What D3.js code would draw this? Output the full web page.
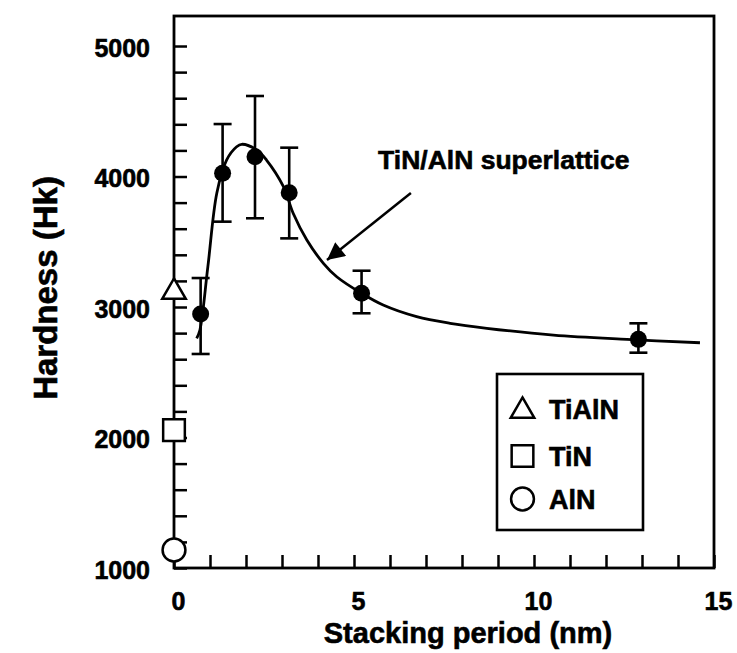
<!DOCTYPE html>
<html><head><meta charset="utf-8">
<script src="https://cdn.jsdelivr.net/npm/d3@7/dist/d3.min.js"></script>
<style>
body{margin:0;background:#fff;}
text{font-family:"Liberation Sans",Arial,Helvetica,sans-serif;font-weight:bold;fill:#000;stroke:#000;stroke-width:0.6px;}
</style></head>
<body>
<svg id="chart" width="737" height="653"></svg>
<script>
// ---- data ----
const periods = [0.74, 1.35, 2.25, 3.2, 5.21, 12.9];
const hardness = [2946, 4025, 4152, 3876, 3105, 2752];
const errTop = [3222, 4402, 4617, 4221, 3278, 2875];
const errBottom = [2640, 3654, 3680, 3526, 2952, 2650];

const fitX = [0.63, 0.72, 0.94, 1.19, 1.46, 1.74, 1.88, 2.30, 2.57, 3.04, 3.31, 3.69, 4.15, 4.52, 5.21, 5.81, 6.74, 7.67, 8.69, 10.54, 12.58, 14.61];
const fitY = [2760, 2824, 3307, 3874, 4126, 4228, 4247, 4203, 4126, 3922, 3718, 3513, 3335, 3232, 3105, 3015, 2926, 2875, 2837, 2785, 2752, 2726];

const refNames = ["TiAlN", "TiN", "AlN"];
const refHardness = [3130, 2057, 1138];
const refSymbols = ["triangle", "square", "circle"];

const xTickValues = [0,1,2,3,4,5,6,7,8,9,10,11,12,13,14,15];
const xTickLabels = [0, 5, 10, 15];
const yTickValues = [1000,1200,1400,1600,1800,2000,2200,2400,2600,2800,3000,3200,3400,3600,3800,4000,4200,4400,4600,4800,5000];
const yTickLabels = [1000, 2000, 3000, 4000, 5000];

const annotationText = "TiN/AlN superlattice";
const xTitle = "Stacking period (nm)";
const yTitle = "Hardness (Hk)";

// ---- layout ----
const svg = d3.select("#chart");
const L = 174, R = 714, T = 16, B = 568;
const x = d3.scaleLinear().domain([0, 15]).range([L, R]);
const y = d3.scaleLinear().domain([1000, 5230]).range([B, T]);

const symType = {triangle: d3.symbolTriangle, square: d3.symbolSquare, circle: d3.symbolCircle};
const symSize = {triangle: 240, square: 470, circle: 410};

// axes
const xAxis = d3.axisBottom(x).tickValues(xTickValues).tickSizeInner(-13).tickSizeOuter(0)
  .tickPadding(24).tickFormat(d => xTickLabels.includes(d) ? d : "");
const gx = svg.append("g").attr("transform", `translate(0,${B})`).call(xAxis);
gx.select(".domain").remove();
gx.selectAll(".tick line").attr("stroke", "#000").attr("stroke-width", 2.5);
gx.selectAll(".tick text").attr("font-size", 25).attr("dx", 4)
  .style("font-family", '"Liberation Sans",Arial,sans-serif').style("font-weight", "bold");

const yAxis = d3.axisLeft(y).tickValues(yTickValues).tickSizeInner(-13).tickSizeOuter(0)
  .tickPadding(24).tickFormat(d => yTickLabels.includes(d) ? d : "");
const gy = svg.append("g").attr("transform", `translate(${L},0)`).call(yAxis);
gy.select(".domain").remove();
gy.selectAll(".tick line").attr("stroke", "#000").attr("stroke-width", 2.5);
gy.selectAll(".tick text").attr("font-size", 25).attr("dy", "0.4em")
  .style("font-family", '"Liberation Sans",Arial,sans-serif').style("font-weight", "bold");

// frame
svg.append("rect").attr("x", L).attr("y", T).attr("width", R - L).attr("height", B - T)
  .attr("fill", "none").attr("stroke", "#000").attr("stroke-width", 2.8);

// titles
svg.append("text").attr("x", 468).attr("y", 643).attr("text-anchor", "middle")
  .attr("font-size", 29).text(xTitle);
svg.append("text").attr("transform", `translate(57,${288}) rotate(-90)`).attr("text-anchor", "middle")
  .attr("font-size", 33).text(yTitle);

// fitted curve
const pts = fitX.map((d, i) => [x(d), y(fitY[i])]);
svg.append("path").attr("d", d3.line().curve(d3.curveCatmullRom.alpha(0.5))(pts))
  .attr("fill", "none").attr("stroke", "#000").attr("stroke-width", 2.8);

// error bars
const eb = svg.append("g").attr("stroke", "#000").attr("stroke-width", 2.6);
periods.forEach((p, i) => {
  eb.append("line").attr("x1", x(p)).attr("x2", x(p)).attr("y1", y(errTop[i])).attr("y2", y(errBottom[i]));
  eb.append("line").attr("x1", x(p) - 9).attr("x2", x(p) + 9).attr("y1", y(errTop[i])).attr("y2", y(errTop[i]));
  eb.append("line").attr("x1", x(p) - 9).attr("x2", x(p) + 9).attr("y1", y(errBottom[i])).attr("y2", y(errBottom[i]));
});
// points
svg.append("g").selectAll("circle").data(periods).join("circle")
  .attr("cx", d => x(d)).attr("cy", (d, i) => y(hardness[i])).attr("r", 8.5).attr("fill", "#000");

// reference (single-layer) markers at x = 0
svg.append("g").selectAll("path").data(refHardness).join("path")
  .attr("transform", (d, i) => `translate(${x(0)},${y(d) + (refSymbols[i] === "triangle" ? 2 : 0)})`)
  .attr("d", (d, i) => d3.symbol().type(symType[refSymbols[i]]).size(symSize[refSymbols[i]])())
  .attr("fill", "#fff").attr("stroke", "#000").attr("stroke-width", 2.5);

// annotation
const defs = svg.append("defs");
defs.append("marker").attr("id", "arrow").attr("viewBox", "0 0 10 10").attr("refX", 10).attr("refY", 5)
  .attr("markerWidth", 8).attr("markerHeight", 7).attr("markerUnits", "strokeWidth").attr("orient", "auto")
  .append("path").attr("d", "M0,0 L10,5 L0,10 z").attr("fill", "#000");
svg.append("line").attr("x1", x(6.58)).attr("y1", y(3874)).attr("x2", x(4.25)).attr("y2", y(3360))
  .attr("stroke", "#000").attr("stroke-width", 2.5).attr("marker-end", "url(#arrow)");
svg.append("text").attr("x", x(5.67)).attr("y", y(4060)).attr("font-size", 26.5).text(annotationText);

// legend
const lg = svg.append("g");
lg.append("rect").attr("x", 497).attr("y", 374).attr("width", 146).attr("height", 156)
  .attr("fill", "#fff").attr("stroke", "#000").attr("stroke-width", 2.6);
const rowY = [409, 456, 499];
refNames.forEach((n, i) => {
  lg.append("path").attr("transform", `translate(522.5,${rowY[i] + (refSymbols[i] === "triangle" ? 2 : 0)})`)
    .attr("d", d3.symbol().type(symType[refSymbols[i]]).size(symSize[refSymbols[i]])())
    .attr("fill", "#fff").attr("stroke", "#000").attr("stroke-width", 2.5);
  lg.append("text").attr("x", 549).attr("y", rowY[i]).attr("dy", "0.36em").attr("font-size", 27).text(n);
});
</script>
</body></html>
